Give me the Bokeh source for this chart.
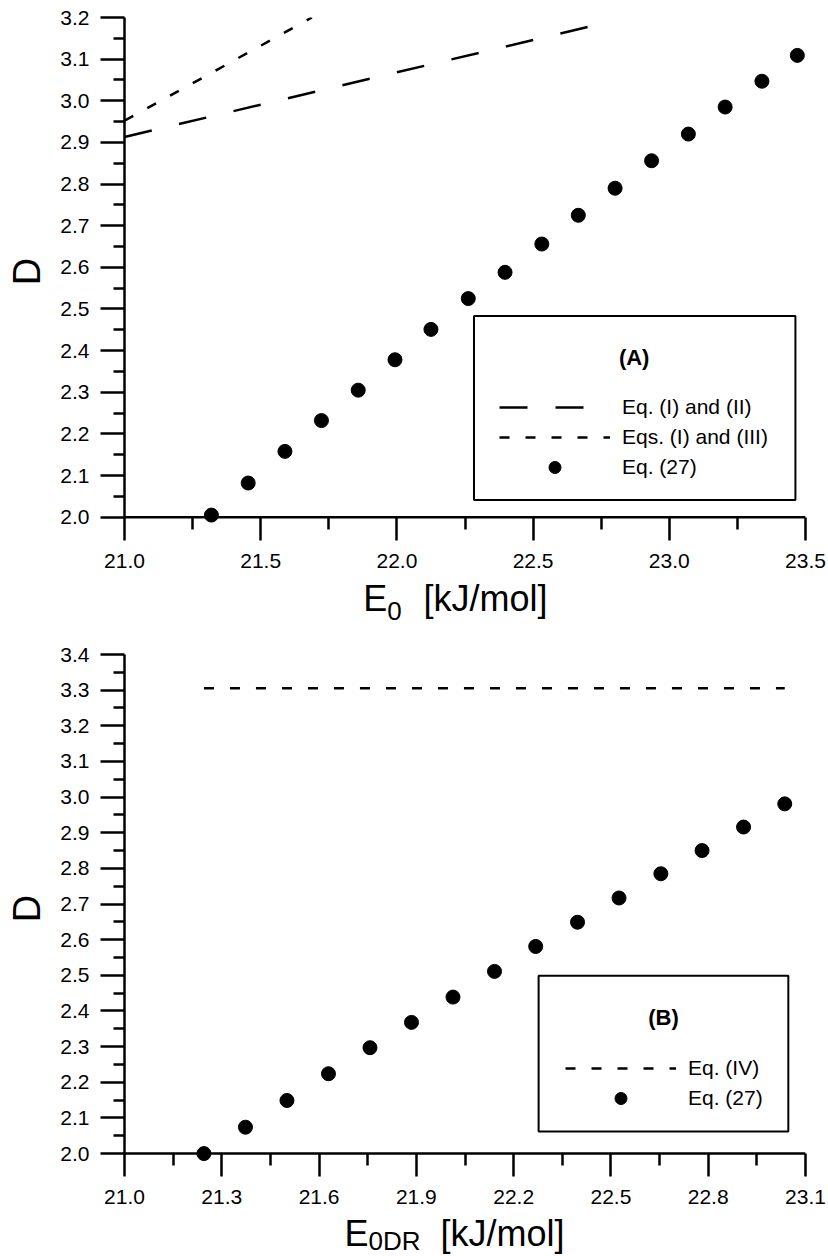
from bokeh.plotting import figure
from bokeh.layouts import column
from bokeh.models import (Range1d, FixedTicker, PrintfTickFormatter, Legend,
                          LegendItem, BoxAnnotation, Label, Span)
from bokeh.core.properties import value
from bokeh.embed import file_html
from bokeh.resources import INLINE

FONT = "Liberation Sans"

# ---------------- Panel (A) data ----------------
A_E0 = [21.319, 21.454, 21.589, 21.723, 21.858, 21.993, 22.125, 22.262, 22.397,
        22.532, 22.666, 22.801, 22.935, 23.070, 23.205, 23.340, 23.470]
A_D = [2.005, 2.082, 2.158, 2.232, 2.305, 2.378, 2.451, 2.525, 2.588,
       2.656, 2.725, 2.790, 2.856, 2.920, 2.985, 3.047, 3.109]
A_EQ12_X = [21.0, 22.70]
A_EQ12_Y = [2.913, 3.177]
A_EQ13_X = [21.0, 21.688]
A_EQ13_Y = [2.952, 3.200]

A_XTICKS = [21.0, 21.5, 22.0, 22.5, 23.0, 23.5]
A_XMINOR = [21.25, 21.75, 22.25, 22.75, 23.25]
A_YTICKS = [2.0, 2.1, 2.2, 2.3, 2.4, 2.5, 2.6, 2.7, 2.8, 2.9, 3.0, 3.1, 3.2]
A_YMINOR = [2.05, 2.15, 2.25, 2.35, 2.45, 2.55, 2.65, 2.75, 2.85, 2.95, 3.05, 3.15]

# ---------------- Panel (B) data ----------------
B_E0DR = [21.245, 21.373, 21.501, 21.629, 21.757, 21.885, 22.013, 22.141,
          22.268, 22.397, 22.525, 22.654, 22.781, 22.909, 23.036]
B_D = [2.000, 2.074, 2.149, 2.224, 2.297, 2.368, 2.439, 2.511,
       2.581, 2.649, 2.717, 2.785, 2.850, 2.916, 2.981]
B_EQ4_X = [21.245, 23.036]
B_EQ4_Y = [3.305, 3.305]

B_XTICKS = [21.0, 21.3, 21.6, 21.9, 22.2, 22.5, 22.8, 23.1]
B_XMINOR = [21.15, 21.45, 21.75, 22.05, 22.35, 22.65, 22.95]
B_YTICKS = [2.0, 2.1, 2.2, 2.3, 2.4, 2.5, 2.6, 2.7, 2.8, 2.9, 3.0, 3.1, 3.2, 3.3, 3.4]
B_YMINOR = [2.05, 2.15, 2.25, 2.35, 2.45, 2.55, 2.65, 2.75, 2.85, 2.95,
            3.05, 3.15, 3.25, 3.35]

LONG_DASH = "28 28"
SHORT_DASH = "10 16"

LEFT, RIGHT = 124, 23  # borders shared by all rows of the column


def make_panel(height, top, bottom, xr, yr, ybounds, xt, xm, yt, ym, tin, xstand):
    p = figure(width=828, height=height, x_range=Range1d(*xr), y_range=Range1d(*yr),
               output_backend="svg", toolbar_location=None,
               min_border_left=LEFT, min_border_right=RIGHT,
               min_border_top=top, min_border_bottom=bottom)
    p.outline_line_color = None
    p.grid.visible = False
    p.background_fill_color = "white"
    p.border_fill_color = "white"
    xa = p.xaxis[0]
    ya = p.yaxis[0]
    xa.ticker = FixedTicker(ticks=xt, minor_ticks=xm)
    ya.ticker = FixedTicker(ticks=yt, minor_ticks=ym)
    ya.bounds = ybounds
    for ax in (xa, ya):
        ax.formatter = PrintfTickFormatter(format="%.1f")
        ax.axis_line_width = 2.5
        ax.axis_line_color = "black"
        ax.major_tick_line_width = 2.5
        ax.minor_tick_line_width = 2.5
        ax.major_tick_line_color = "black"
        ax.minor_tick_line_color = "black"
        ax.major_label_text_font = FONT
        ax.major_label_text_font_size = "21px"
        ax.major_label_text_color = "black"
    # the x rule is drawn at D = 2.0 (slightly above the frame edge)
    xa.axis_line_color = None
    xa.major_tick_in = tin
    xa.major_tick_out = 23 - tin
    xa.minor_tick_in = tin
    xa.minor_tick_out = 12 - tin
    xa.major_label_standoff = xstand
    p.add_layout(Span(location=ybounds[0], dimension="width", line_color="black",
                      line_width=2.5))
    ya.major_tick_in = 0
    ya.minor_tick_in = 0
    ya.major_tick_out = 24
    ya.minor_tick_out = 11
    ya.major_label_standoff = 11
    ya.axis_label = "D"
    ya.axis_label_text_font = FONT
    ya.axis_label_text_font_size = "38px"
    ya.axis_label_text_font_style = "normal"
    ya.axis_label_text_color = "black"
    ya.axis_label_standoff = 9
    return p


def make_strip(height, xs, ys, texts, sizes):
    # x in page pixels (frame spans LEFT .. 828-RIGHT), y in pixels from the strip top
    s = figure(width=828, height=height,
               x_range=Range1d(LEFT, 828 - RIGHT), y_range=Range1d(height, 0),
               output_backend="svg", toolbar_location=None,
               min_border_left=LEFT, min_border_right=RIGHT,
               min_border_top=0, min_border_bottom=0,
               x_axis_type=None, y_axis_type=None)
    s.outline_line_color = None
    s.grid.visible = False
    s.background_fill_color = "white"
    s.border_fill_color = "white"
    for x, y, t, fs in zip(xs, ys, texts, sizes):
        s.text(x=[x], y=[y], text=[t], text_font=value(FONT), text_font_size=value(fs),
               text_color="black", text_baseline="alphabetic", text_align="left")
    return s


def style_legend(lg):
    lg.border_line_color = None
    lg.background_fill_alpha = 0
    lg.padding = 0
    lg.margin = 0
    lg.spacing = 0
    lg.glyph_width = 111
    lg.glyph_height = 30
    lg.label_height = 30
    lg.label_standoff = 12
    lg.label_text_font = FONT
    lg.label_text_font_size = "21px"
    lg.label_text_color = "black"


# ---------------- Panel (A) ----------------
pA = make_panel(578, 17, 53, (21.0, 23.5), (1.98, 3.2), (2.0, 3.2),
                A_XTICKS, A_XMINOR, A_YTICKS, A_YMINOR, 8, 13)
rA1 = pA.line(A_EQ12_X, A_EQ12_Y, line_color="black", line_width=2.5, line_dash=LONG_DASH)
rA2 = pA.line(A_EQ13_X, A_EQ13_Y, line_color="black", line_width=2.5, line_dash=SHORT_DASH)
rA3 = pA.scatter(A_E0, A_D, size=14, color="black")
pA.add_layout(BoxAnnotation(left=22.283, right=23.463, bottom=2.041, top=2.483,
                            fill_color=None, line_color="black", line_alpha=1.0,
                            line_width=2))
pA.add_layout(Label(x=22.871, y=2.384, text="(A)", text_font=FONT, text_font_size="22px",
                    text_font_style="bold", text_align="center", text_baseline="middle",
                    text_color="black"))
lgA = Legend(items=[LegendItem(label="Eq. (I) and (II)", renderers=[rA1]),
                    LegendItem(label="Eqs. (I) and (III)", renderers=[rA2]),
                    LegendItem(label="Eq. (27)", renderers=[rA3])],
             location=(375, 43))
style_legend(lgA)
pA.add_layout(lgA)

stripA = make_strip(49, [362.7, 386.7, 423], [20.4, 32.8, 20.4],
                    ["E", "0", "[kJ/mol]"], ["36px", "26px", "36px"])

# ---------------- Panel (B) ----------------
pB = make_panel(586, 27, 51, (21.0, 23.1), (1.975, 3.4), (2.0, 3.4),
                B_XTICKS, B_XMINOR, B_YTICKS, B_YMINOR, 9, 13)
rB1 = pB.line(B_EQ4_X, B_EQ4_Y, line_color="black", line_width=2.5, line_dash=SHORT_DASH)
rB2 = pB.scatter(B_E0DR, B_D, size=14, color="black")
pB.add_layout(BoxAnnotation(left=22.277, right=23.047, bottom=2.062, top=2.499,
                            fill_color=None, line_color="black", line_alpha=1.0,
                            line_width=2))
pB.add_layout(Label(x=22.662, y=2.382, text="(B)", text_font=FONT, text_font_size="22px",
                    text_font_style="bold", text_align="center", text_baseline="middle",
                    text_color="black"))
lgB = Legend(items=[LegendItem(label="Eq. (IV)", renderers=[rB1]),
                    LegendItem(label="Eq. (27)", renderers=[rB2])],
             location=(441, 49))
style_legend(lgB)
pB.add_layout(lgB)

stripB = make_strip(43, [344, 368, 440], [20.4, 27.8, 20.4],
                    ["E", "0DR", "[kJ/mol]"], ["36px", "26px", "36px"])

layout = column(pA, stripA, pB, stripB, spacing=0)
open("out.html", "w").write(file_html(layout, INLINE))
